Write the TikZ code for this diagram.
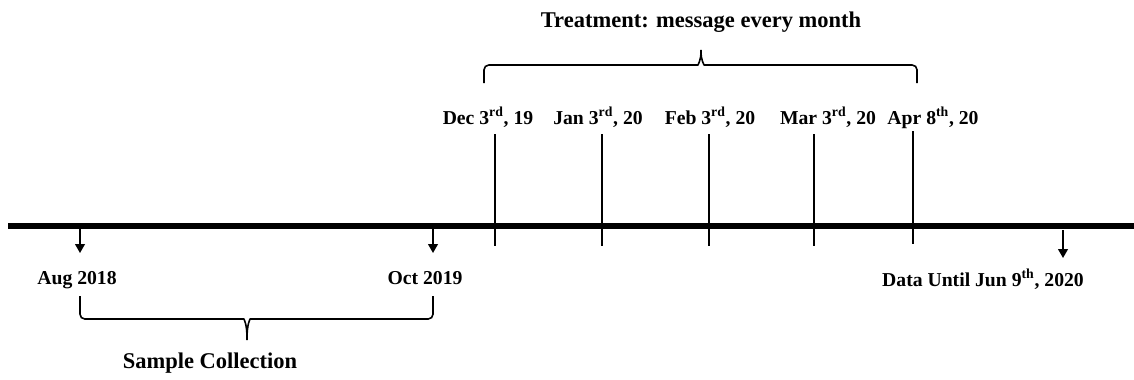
\documentclass[tikz,border=0pt]{standalone}
\usepackage{fontspec}
\setmainfont{Liberation Serif}
\usetikzlibrary{calc}
\usetikzlibrary{arrows.meta}

\begin{document}
\begin{tikzpicture}[x=0.25mm,y=-0.25mm]
        \useasboundingbox (0,0) rectangle (1134,379);
        % time axis
        \coordinate (axisl) at (8,226);
        \coordinate (axisr) at (1134,226);
        \draw[line width=1.5mm] (axisl) -- (axisr);
        % monthly messages
        \coordinate (dec) at (495,226);
        \coordinate (jan) at (602,226);
        \coordinate (feb) at (709,226);
        \coordinate (mar) at (814,226);
        \coordinate (apr) at (913,226);
        \node[font=\bfseries\fontsize{14}{16}\selectfont, anchor=base, inner sep=0] at (488,124) (decl) {Dec 3\textsuperscript{rd}, 19};
        \node[font=\bfseries\fontsize{14}{16}\selectfont, anchor=base, inner sep=0] at (598,124) (janl) {Jan 3\textsuperscript{rd}, 20};
        \node[font=\bfseries\fontsize{14}{16}\selectfont, anchor=base, inner sep=0] at (710,124) (febl) {Feb 3\textsuperscript{rd}, 20};
        \node[font=\bfseries\fontsize{14}{16}\selectfont, anchor=base, inner sep=0] at (828,124) (marl) {Mar 3\textsuperscript{rd}, 20};
        \node[font=\bfseries\fontsize{14}{16}\selectfont, anchor=base, inner sep=0] at (933,124) (aprl) {Apr 8\textsuperscript{th}, 20};
        \draw[line width=0.5mm] ($(dec)+(0,-92)$) -- ($(dec)+(0,20)$);
        \draw[line width=0.5mm] ($(jan)+(0,-92)$) -- ($(jan)+(0,20)$);
        \draw[line width=0.5mm] ($(feb)+(0,-92)$) -- ($(feb)+(0,20)$);
        \draw[line width=0.5mm] ($(mar)+(0,-92)$) -- ($(mar)+(0,20)$);
        \draw[line width=0.5mm] ($(apr)+(0,-95)$) -- ($(apr)+(0,18)$);
        % treatment brace
        \draw[line width=0.4mm, rounded corners=1.2mm] (484,83) -- (484,65) -- (693,65) .. controls (698,65) and (701,60) .. (701,47) .. controls (701,60) and (704,65) .. (709,65) -- (917,65) -- (917,83);
        \node[font=\bfseries\fontsize{16}{18}\selectfont, anchor=base, inner sep=0] at (701,27) (treat) {Treatment: message every month};
        % sample collection and data end
        \coordinate (aug) at (80,226);
        \coordinate (oct) at (433,226);
        \coordinate (jun) at (1063,230);
        \draw[-{Triangle[width=2.4mm,length=2.2mm]}, line width=0.4mm] (aug) -- ($(aug)+(0,27)$);
        \draw[-{Triangle[width=2.4mm,length=2.2mm]}, line width=0.4mm] (oct) -- ($(oct)+(0,27)$);
        \draw[-{Triangle[width=2.4mm,length=2.2mm]}, line width=0.4mm] (jun) -- ($(jun)+(0,28)$);
        \node[font=\bfseries\fontsize{14}{16}\selectfont, anchor=base, inner sep=0] at (77,284) (augl) {Aug 2018};
        \node[font=\bfseries\fontsize{14}{16}\selectfont, anchor=base, inner sep=0] at (425,284) (octl) {Oct 2019};
        \node[font=\bfseries\fontsize{14}{16}\selectfont, anchor=base, inner sep=0] at (983,286) (junl) {Data Until Jun 9\textsuperscript{th}, 2020};
        \draw[line width=0.4mm, rounded corners=1.2mm] (80,296) -- (80,319) -- (239,319) .. controls (244,319) and (247,324) .. (247,343) .. controls (247,324) and (250,319) .. (255,319) -- (433,319) -- (433,296);
        \node[font=\bfseries\fontsize{16}{18}\selectfont, anchor=base, inner sep=0] at (210,368) (sample) {Sample Collection};
    \end{tikzpicture}
\end{document}
